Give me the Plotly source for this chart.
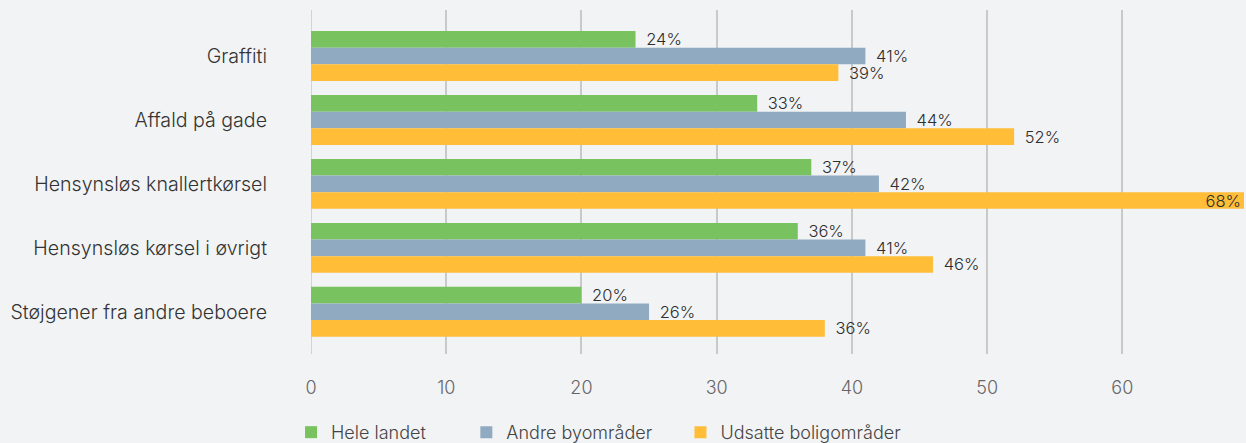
import plotly.graph_objects as go

categories = ["Graffiti", "Affald på gade", "Hensynsløs knallertkørsel",
              "Hensynsløs kørsel i øvrigt", "Støjgener fra andre beboere"]
series_names = ["Hele landet", "Andre byområder", "Udsatte boligområder"]
# bar lengths as drawn in the picture
hele_landet = [24, 33, 37, 36, 20]
andre_byomraader = [41, 44, 42, 41, 25]
udsatte_boligomraader = [39, 52, 69, 46, 38]
# data labels as printed in the picture
hele_landet_labels = ["24%", "33%", "37%", "36%", "20%"]
andre_byomraader_labels = ["41%", "44%", "42%", "41%", "26%"]
udsatte_boligomraader_labels = ["39%", "52%", "68%", "46%", "36%"]
colors = ["#78c35f", "#90abc1", "#ffbd38"]
x_ticks = [0, 10, 20, 30, 40, 50, 60]

FONT = "Inter, Roboto, sans-serif"
PAD = "\u00a0\u2009"
fig = go.Figure()
legend_ids = ["legend", "legend2", "legend3"]
for name, vals, labels, col, lg in zip(
        series_names,
        [hele_landet, andre_byomraader, udsatte_boligomraader],
        [hele_landet_labels, andre_byomraader_labels, udsatte_boligomraader_labels],
        colors, legend_ids):
    positions = ["inside" if v >= 60 else "outside" for v in vals]
    texts = [t if p == "inside" else PAD + t for t, p in zip(labels, positions)]
    fig.add_trace(go.Bar(
        y=categories, x=vals, orientation="h", name=name,
        marker=dict(color=col, line=dict(width=0)),
        text=texts,
        textposition=positions,
        insidetextanchor="end",
        constraintext="none",
        textfont=dict(family=FONT, size=16.5, color="#2e2e2e", weight=300),
        insidetextfont=dict(family=FONT, size=16.5, color="#2e2e2e", weight=300),
        outsidetextfont=dict(family=FONT, size=16.5, color="#2e2e2e", weight=300),
        cliponaxis=False,
        hoverinfo="skip",
        legend=lg, showlegend=True,
    ))

bg = "#f2f3f5"
H = 460  # taller than the 443px window so the legend is cut at the bottom like the reference
fig.update_layout(
    width=1246, height=H,
    paper_bgcolor=bg, plot_bgcolor=bg,
    showlegend=True,
    margin=dict(l=311, r=2, t=10, b=H - 354),
    barmode="group", bargap=0.22, bargroupgap=0,
    font=dict(family=FONT, color="#333333"),
    xaxis=dict(range=[0, 69], tickvals=x_ticks, showgrid=True,
               gridcolor="#c9c9c9", gridwidth=1.5, zeroline=False,
               showline=False, ticks="", ticklabelstandoff=21,
               tickfont=dict(family=FONT, size=18, color="#666666", weight=300)),
    yaxis=dict(categoryorder="array", categoryarray=categories,
               range=[4.66, -0.72], showgrid=False, zeroline=False,
               showline=False, ticks="", ticklabelstandoff=43,
               tickfont=dict(family=FONT, size=19.6, color="#333333", weight=300)),
    shapes=[dict(type="line", xref="x", yref="paper", x0=0, x1=0, y0=0, y1=1,
                 line=dict(color="#c9c9c9", width=1.5), layer="below")],
)
legend_common = dict(orientation="h", yanchor="middle", xanchor="left", y=-0.228,
                     bgcolor="rgba(0,0,0,0)",
                     font=dict(family=FONT, size=18, color="#444444", weight=300))
fig.update_layout(
    legend=dict(x=-0.0214, **legend_common),
    legend2=dict(x=0.1665, **legend_common),
    legend3=dict(x=0.3960, **legend_common),
)
fig.write_html("out.html", config={"displayModeBar": False},
               post_script="document.body.style.margin='0';document.body.style.overflow='hidden';")
